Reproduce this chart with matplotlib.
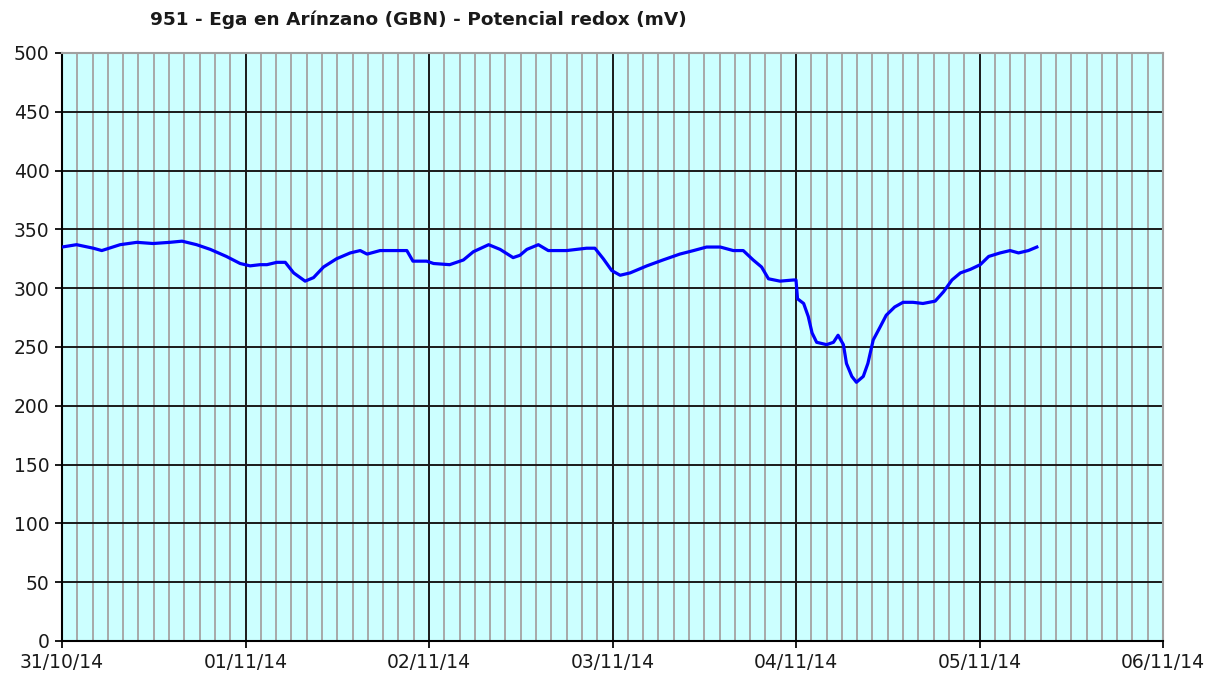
import pandas as pd
import matplotlib
matplotlib.use("Agg")
import matplotlib.pyplot as plt
import matplotlib.dates as mdates

# hours since 31/10/14 00:00 and redox potential (mV)
hours = [0.0, 1.9, 4.1, 5.2, 7.6, 9.8, 11.9, 14.1, 15.7, 17.6, 19.4, 21.5, 23.3,
         24.6, 25.9, 26.8, 28.1, 29.2, 30.3, 31.8, 32.9, 34.2, 35.9, 37.7, 39.0,
         39.9, 41.6, 43.3, 45.1, 45.9, 47.7, 48.6, 50.7, 52.5, 53.8, 55.8, 57.3,
         59.0, 59.9, 60.8, 62.3, 63.6, 66.0, 68.6, 69.7, 70.8, 71.9, 73.0, 74.3,
         76.5, 78.6, 80.8, 82.6, 84.3, 86.1, 87.8, 89.1, 90.4, 91.5, 92.4, 93.9,
         95.7, 96.0, 96.2, 97.0, 97.6, 98.1, 98.7, 100.0, 100.9, 101.5, 102.2,
         102.6, 103.3, 103.9, 104.8, 105.4, 106.1, 107.0, 107.8, 108.9, 110.0,
         111.3, 112.6, 114.2, 115.3, 116.4, 117.5, 118.8, 120.1, 121.2, 122.7,
         124.0, 125.1, 126.4, 127.5]
redox = [335, 337, 334, 332, 337, 339, 338, 339, 340, 337, 333, 327, 321,
         319, 320, 320, 322, 322, 313, 306, 309, 318, 325, 330, 332,
         329, 332, 332, 332, 323, 323, 321, 320, 324, 331, 337, 333,
         326, 328, 333, 337, 332, 332, 334, 334, 325, 315, 311, 313,
         319, 324, 329, 332, 335, 335, 332, 332, 324, 318, 308, 306,
         307, 307, 291, 287, 276, 262, 254, 252, 254, 260, 252,
         236, 225, 220, 225, 236, 256, 267, 277, 284, 288,
         288, 287, 289, 297, 307, 313, 316, 320, 327, 330,
         332, 330, 332, 335]

title = "951 - Ega en Arínzano (GBN) - Potencial redox (mV)"
start = pd.Timestamp("2014-10-31")
end = pd.Timestamp("2014-11-06")

times = start + pd.to_timedelta(hours, unit="h")

fig = plt.figure(figsize=(12.22, 6.8), dpi=100)
ax = fig.add_axes([62 / 1222, 39 / 680, 1101 / 1222, 588 / 680])

ax.set_facecolor("#ccffff")
ax.plot(times, redox, color="#0000ff", linewidth=2.3, zorder=3)

ax.set_xlim(start, end)
ax.set_ylim(0, 500)
ax.set_yticks(range(0, 501, 50))

ax.xaxis.set_major_locator(mdates.DayLocator())
ax.xaxis.set_major_formatter(mdates.DateFormatter("%d/%m/%y"))
ax.xaxis.set_minor_locator(mdates.HourLocator(byhour=range(0, 24, 2)))

ax.grid(which="major", color="#1a1a1a", linewidth=1.4, zorder=1)
ax.grid(which="minor", axis="x", color="#a8a8a8", linewidth=1.4, zorder=0)
ax.set_axisbelow(True)

ax.tick_params(which="major", direction="out", length=5, width=1.4,
               labelsize=13.5, colors="#1a1a1a", pad=4)
ax.tick_params(which="minor", length=0)

for side in ["left", "bottom"]:
    ax.spines[side].set_color("#000000")
    ax.spines[side].set_linewidth(1.5)
for side in ["top", "right"]:
    ax.spines[side].set_color("#a0a0a0")
    ax.spines[side].set_linewidth(1.5)

fig.text(150 / 1222, 1 - 20 / 680, title, fontsize=13.3, fontweight="bold",
         color="#1a1a1a", ha="left", va="center")

fig.savefig("out.png", dpi=100, facecolor="white")
